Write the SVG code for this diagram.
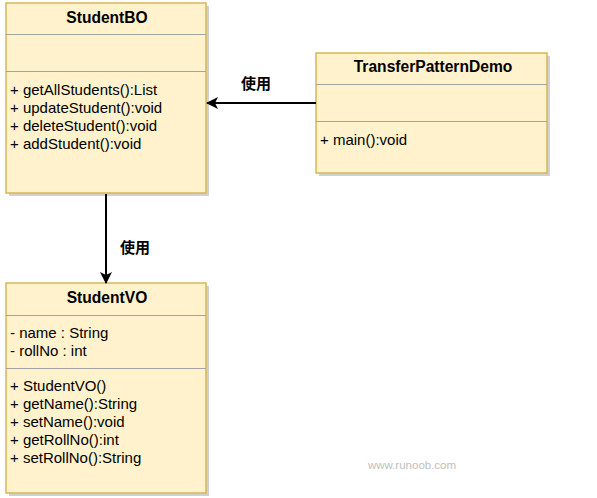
<svg xmlns="http://www.w3.org/2000/svg" width="597" height="498" viewBox="0 0 597 498">
<defs>
<style>
.box{fill:#fff2cc;stroke:#d6b656;stroke-width:1.5}
.shadow{fill:#bdbdbd;opacity:0.7}
.sep{stroke:#a3a3a3;stroke-width:1}
.t{font-family:"Liberation Sans",Arial,sans-serif;font-size:15px;fill:#000}
.h{font-family:"Liberation Sans",Arial,sans-serif;font-size:15.6px;font-weight:bold;fill:#000;text-anchor:middle}
.lbl{font-family:"Liberation Sans","Noto Sans CJK SC",sans-serif;font-size:15px;font-weight:bold;fill:#000}
.conn{stroke:#000;stroke-width:2;fill:none}
.wm{font-family:"Liberation Sans",Arial,sans-serif;font-size:11.5px;fill:#c0c0c0;text-anchor:middle}
</style>
<marker id="arr" viewBox="0 0 12 12" refX="11" refY="6" markerWidth="12" markerHeight="12" markerUnits="userSpaceOnUse" orient="auto">
<path d="M0,0 L12,6 L0,12 L3,6 Z" fill="#000"/>
</marker>
</defs>
<rect width="597" height="498" fill="#fff"/>

<g id="StudentBO">
<rect class="shadow" x="9" y="6" width="200" height="190"/>
<rect class="box" x="6" y="3" width="200" height="190"/>
<line class="sep" x1="6" y1="34.5" x2="206" y2="34.5"/>
<line class="sep" x1="6" y1="71.5" x2="206" y2="71.5"/>
<text class="h" x="107" y="23">StudentBO</text>
<text class="t" x="10" y="95">+ getAllStudents():List</text>
<text class="t" x="10" y="113">+ updateStudent():void</text>
<text class="t" x="10" y="131">+ deleteStudent():void</text>
<text class="t" x="10" y="149">+ addStudent():void</text>
</g>

<g id="TransferPatternDemo">
<rect class="shadow" x="319" y="56" width="231" height="120"/>
<rect class="box" x="316" y="53" width="231" height="120"/>
<line class="sep" x1="316" y1="84.5" x2="547" y2="84.5"/>
<line class="sep" x1="316" y1="121.5" x2="547" y2="121.5"/>
<text class="h" x="433" y="72">TransferPatternDemo</text>
<text class="t" x="320" y="145">+ main():void</text>
</g>

<g id="StudentVO">
<rect class="shadow" x="9" y="286" width="200" height="210"/>
<rect class="box" x="6" y="283" width="200" height="210"/>
<line class="sep" x1="6" y1="315.5" x2="206" y2="315.5"/>
<line class="sep" x1="6" y1="368.5" x2="206" y2="368.5"/>
<text class="h" x="107" y="303">StudentVO</text>
<text class="t" x="10" y="338">- name : String</text>
<text class="t" x="10" y="356">- rollNo : int</text>
<text class="t" x="10" y="391">+ StudentVO()</text>
<text class="t" x="10" y="409">+ getName():String</text>
<text class="t" x="10" y="427">+ setName():void</text>
<text class="t" x="10" y="445">+ getRollNo():int</text>
<text class="t" x="10" y="463">+ setRollNo():String</text>
</g>

<g id="connectors">
<line class="conn" x1="316" y1="103" x2="207" y2="103" marker-end="url(#arr)"/>
<text class="lbl" x="241" y="89">使用</text>
<line class="conn" x1="106" y1="194" x2="106" y2="283" marker-end="url(#arr)"/>
<text class="lbl" x="120" y="253">使用</text>
</g>

<text class="wm" x="412" y="469">www.runoob.com</text>
</svg>
